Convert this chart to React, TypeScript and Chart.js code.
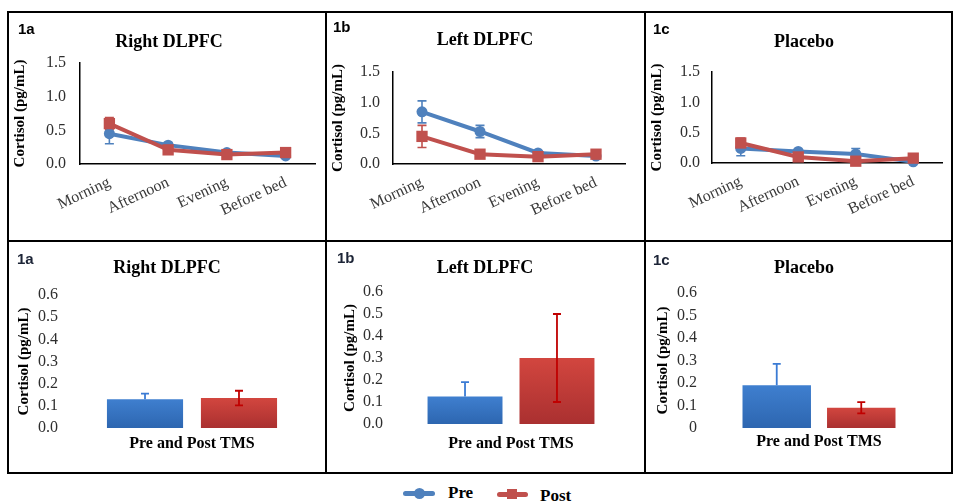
import React, { useEffect, useRef } from 'react';
import { Chart, registerables } from 'chart.js';

Chart.register(...registerables);

// ---------- data ----------
const timeLabels = ['Morning', 'Afternoon', 'Evening', 'Before bed'];
const lineYTicks = [0, 0.5, 1.0, 1.5];
const barYTicks = [0, 0.1, 0.2, 0.3, 0.4, 0.5, 0.6];
const barGroup = ['Pre and Post TMS'];
const seriesNames = ['Pre', 'Post'];
const yAxisTitle = 'Cortisol (pg/mL)';
const panelTitles = ['Right DLPFC', 'Left DLPFC', 'Placebo'];
const panelTags = ['1a', '1b', '1c'];

const rightPre = [0.45, 0.28, 0.17, 0.12];
const rightPreErr = [0.15, 0.04, 0.03, 0.02];
const rightPost = [0.6, 0.21, 0.14, 0.17];
const rightPostErr = [0.09, 0.04, 0.03, 0.03];

const leftPre = [0.85, 0.53, 0.18, 0.13];
const leftPreErr = [0.18, 0.1, 0.03, 0.02];
const leftPost = [0.45, 0.16, 0.12, 0.16];
const leftPostErr = [0.18, 0.04, 0.03, 0.03];

const placeboPre = [0.24, 0.19, 0.15, 0.02];
const placeboPreErr = [0.12, 0.03, 0.09, 0.02];
const placeboPost = [0.33, 0.1, 0.03, 0.08];
const placeboPostErr = [0.08, 0.03, 0.02, 0.03];

const barRightPre = [0.13];
const barRightPreErr = [0.025];
const barRightPost = [0.135];
const barRightPostErr = [0.033];

const barLeftPre = [0.125];
const barLeftPreErr = [0.065];
const barLeftPost = [0.3];
const barLeftPostErr = [0.2];

const barPlaceboPre = [0.19];
const barPlaceboPreErr = [0.095];
const barPlaceboPost = [0.09];
const barPlaceboPostErr = [0.025];

// ---------- styles ----------
const SERIF = "'Liberation Serif', 'Times New Roman', serif";
const SANS = "'Liberation Sans', Arial, sans-serif";
const BLUE = '#4f81bd';
const RED = '#c0504d';
const TICK = '#2e2e2e';

// ---------- error bar plugin ----------
function drawErrors(chart: any, opts: any) {
  const ctx = chart.ctx;
  const y = chart.scales.y;
  chart.data.datasets.forEach((ds: any, di: number) => {
    const errs = ds.errors;
    if (!errs) return;
    const meta = chart.getDatasetMeta(di);
    ctx.save();
    ctx.strokeStyle = ds.errorColor;
    ctx.lineWidth = opts.width;
    meta.data.forEach((el: any, i: number) => {
      const v = ds.data[i];
      const e = errs[i];
      if (v == null || e == null) return;
      const x = el.x;
      const yt = y.getPixelForValue(v + e);
      const yb = ds.errorPlusOnly ? y.getPixelForValue(v) : y.getPixelForValue(v - e);
      const c = opts.cap;
      ctx.beginPath();
      ctx.moveTo(x, yt);
      ctx.lineTo(x, yb);
      ctx.moveTo(x - c, yt);
      ctx.lineTo(x + c, yt);
      if (!ds.errorPlusOnly) {
        ctx.moveTo(x - c, yb);
        ctx.lineTo(x + c, yb);
      }
      ctx.stroke();
    });
    ctx.restore();
  });
}

const errorBarPlugin = {
  id: 'errorBars',
  beforeDatasetsDraw(chart: any, _args: any, opts: any) {
    if (opts.phase === 'before') drawErrors(chart, opts);
  },
  afterDatasetsDraw(chart: any, _args: any, opts: any) {
    if (opts.phase === 'after') drawErrors(chart, opts);
  },
};

type Geo = {
  pl: number; pr: number; tpt: number; tpb: number;
  yw: number; ytp: number; xh: number; ytickPad: number;
  xtpb?: number; cp?: number; bp?: number;
};

function lineConfig(g: Geo, title: string, pre: number[], preErr: number[], post: number[], postErr: number[]): any {
  return {
    type: 'line',
    data: {
      labels: timeLabels,
      datasets: [
        {
          label: seriesNames[0], data: pre, errors: preErr, errorColor: BLUE,
          borderColor: BLUE, backgroundColor: BLUE, pointBackgroundColor: BLUE, pointBorderColor: BLUE,
          borderWidth: 4, pointStyle: 'circle', pointRadius: 5.5, pointBorderWidth: 0,
          tension: 0, order: 1, clip: false,
        },
        {
          label: seriesNames[1], data: post, errors: postErr, errorColor: RED,
          borderColor: RED, backgroundColor: RED, pointBackgroundColor: RED, pointBorderColor: RED,
          borderWidth: 4, pointStyle: 'rect', pointRadius: 8, pointBorderWidth: 0,
          tension: 0, order: 0, clip: false,
        },
      ],
    },
    options: {
      responsive: false,
      animation: false,
      events: [],
      layout: { padding: { left: g.pl, right: g.pr, top: 0, bottom: 0 } },
      plugins: {
        legend: { display: false },
        tooltip: { enabled: false },
        title: {
          display: true, text: title, color: '#000',
          font: { family: SERIF, size: 18, weight: 'bold', lineHeight: 1.2 },
          padding: { top: g.tpt, bottom: g.tpb },
        },
        errorBars: { phase: 'before', width: 1.6, cap: 4.5 },
      },
      scales: {
        x: {
          type: 'category', offset: true,
          grid: { display: false, drawTicks: false },
          border: { display: true, color: '#000', width: 1.5 },
          ticks: {
            color: '#3a3a3a', font: { family: SERIF, size: 16 },
            minRotation: 25, maxRotation: 25, padding: 9, autoSkip: false,
          },
          afterFit: (s: any) => { s.height = g.xh; },
        },
        y: {
          min: 0, max: 1.5,
          grid: { display: false, drawTicks: false },
          border: { display: true, color: '#000', width: 1.5 },
          ticks: {
            color: TICK, font: { family: SERIF, size: 16 }, padding: g.ytickPad, autoSkip: false,
            callback: (v: any) => Number(v).toFixed(1),
          },
          afterBuildTicks: (s: any) => { s.ticks = lineYTicks.map((value) => ({ value })); },
          title: {
            display: true, text: yAxisTitle, color: '#000',
            font: { family: SERIF, size: 15, weight: 'bold', lineHeight: 1.2 },
            padding: { top: g.ytp, bottom: 0 },
          },
          afterFit: (s: any) => { s.width = g.yw; },
        },
      },
    },
    plugins: [errorBarPlugin],
  };
}

function barFill(top: string, bottom: string) {
  return (c: any) => {
    const chart = c.chart;
    const ys = chart.scales && chart.scales.y;
    if (!chart.chartArea || !ys || c.raw == null) return top;
    const y0 = ys.getPixelForValue(c.raw);
    const y1 = ys.getPixelForValue(0);
    if (!isFinite(y0) || !isFinite(y1) || y0 === y1) return top;
    const gr = chart.ctx.createLinearGradient(0, y0, 0, y1);
    gr.addColorStop(0, top);
    gr.addColorStop(1, bottom);
    return gr;
  };
}

function barConfig(g: Geo, title: string, pre: number[], preErr: number[], post: number[], postErr: number[], zeroLabel: string): any {
  return {
    type: 'bar',
    data: {
      labels: barGroup,
      datasets: [
        {
          label: seriesNames[0], data: pre, errors: preErr, errorColor: '#3b7bd4', errorPlusOnly: true,
          backgroundColor: barFill('#3f7fcf', '#2d66b0'), borderWidth: 0,
          categoryPercentage: g.cp, barPercentage: g.bp,
        },
        {
          label: seriesNames[1], data: post, errors: postErr, errorColor: '#c00000',
          backgroundColor: barFill('#d2463f', '#aa3030'), borderWidth: 0,
          categoryPercentage: g.cp, barPercentage: g.bp,
        },
      ],
    },
    options: {
      responsive: false,
      animation: false,
      events: [],
      layout: { padding: { left: g.pl, right: g.pr, top: 0, bottom: 0 } },
      plugins: {
        legend: { display: false },
        tooltip: { enabled: false },
        title: {
          display: true, text: title, color: '#000',
          font: { family: SERIF, size: 18, weight: 'bold', lineHeight: 1.2 },
          padding: { top: g.tpt, bottom: g.tpb },
        },
        errorBars: { phase: 'after', width: 1.8, cap: 4 },
      },
      scales: {
        x: {
          grid: { display: false, drawTicks: false },
          border: { display: false },
          ticks: { display: false },
          title: {
            display: true, text: barGroup[0], color: '#000',
            font: { family: SERIF, size: 16, weight: 'bold', lineHeight: 1.2 },
            padding: { top: 0, bottom: g.xtpb },
          },
          afterFit: (s: any) => { s.height = g.xh; },
        },
        y: {
          min: 0, max: 0.6,
          grid: { display: false, drawTicks: false },
          border: { display: false },
          ticks: {
            color: TICK, font: { family: SERIF, size: 16 }, padding: g.ytickPad, autoSkip: false,
            callback: (v: any) => (Number(v) === 0 ? zeroLabel : Number(v).toFixed(1)),
          },
          afterBuildTicks: (s: any) => { s.ticks = barYTicks.map((value) => ({ value })); },
          title: {
            display: true, text: yAxisTitle, color: '#000',
            font: { family: SERIF, size: 15, weight: 'bold', lineHeight: 1.2 },
            padding: { top: g.ytp, bottom: 0 },
          },
          afterFit: (s: any) => { s.width = g.yw; },
        },
      },
    },
    plugins: [errorBarPlugin],
  };
}

function ChartCanvas(props: { left: number; top: number; width: number; height: number; make: () => any }) {
  const ref = useRef<HTMLCanvasElement>(null);
  useEffect(() => {
    const chart = new Chart(ref.current as HTMLCanvasElement, props.make());
    return () => chart.destroy();
  }, []);
  return (
    <canvas
      ref={ref}
      width={props.width}
      height={props.height}
      style={{ position: 'absolute', left: props.left, top: props.top, width: props.width, height: props.height }}
    />
  );
}

const lineStyle = (l: number, t: number, w: number, h: number): React.CSSProperties => ({
  position: 'absolute', left: l, top: t, width: w, height: h, background: '#000', zIndex: 2,
});

const tagStyle = (l: number, cy: number, color: string): React.CSSProperties => ({
  position: 'absolute', left: l, top: cy - 9, height: 18, lineHeight: '18px',
  fontFamily: SANS, fontWeight: 'bold', fontSize: 15, color, whiteSpace: 'nowrap',
});

export default function App() {
  return (
    <div style={{ position: 'absolute', left: 0, top: 0, width: 954, height: 502, background: '#fff', overflow: 'hidden' }}>
      <ChartCanvas left={10} top={14} width={314} height={225}
        make={() => lineConfig({ pl: 13, pr: 9, tpt: 17.2, tpb: 10.2, yw: 57, ytp: -12, xh: 75, ytickPad: 14 },
          panelTitles[0], rightPre, rightPreErr, rightPost, rightPostErr)} />
      <ChartCanvas left={328} top={14} width={315} height={225}
        make={() => lineConfig({ pl: 17, pr: 18, tpt: 15.2, tpb: 21.2, yw: 48, ytp: -15.5, xh: 75, ytickPad: 13 },
          panelTitles[1], leftPre, leftPreErr, leftPost, leftPostErr)} />
      <ChartCanvas left={647} top={14} width={303} height={225}
        make={() => lineConfig({ pl: 13, pr: 2, tpt: 17.2, tpb: 19.2, yw: 52, ytp: -12, xh: 76, ytickPad: 12 },
          panelTitles[2], placeboPre, placeboPreErr, placeboPost, placeboPostErr)} />

      <ChartCanvas left={10} top={244} width={314} height={227}
        make={() => barConfig({ pl: 5, pr: 5, tpt: 13.2, tpb: 16.2, yw: 50, ytp: 0, xh: 43, ytickPad: 7, xtpb: 17.4, cp: 0.74, bp: 0.81 },
          panelTitles[0], barRightPre, barRightPreErr, barRightPost, barRightPostErr, '0.0')} />
      <ChartCanvas left={329} top={244} width={315} height={227}
        make={() => barConfig({ pl: 9, pr: 12, tpt: 13.2, tpb: 13.2, yw: 52, ytp: 3, xh: 47, ytickPad: 7, xtpb: 17.4, cp: 0.76, bp: 0.815 },
          panelTitles[1], barLeftPre, barLeftPreErr, barLeftPost, barLeftPostErr, '0.0')} />
      <ChartCanvas left={647} top={244} width={303} height={227}
        make={() => barConfig({ pl: 27, pr: 16, tpt: 13.2, tpb: 14.2, yw: 30, ytp: -20, xh: 43, ytickPad: 7, xtpb: 20, cp: 0.735, bp: 0.81 },
          panelTitles[2], barPlaceboPre, barPlaceboPreErr, barPlaceboPost, barPlaceboPostErr, '0')} />

      {/* panel borders */}
      <div style={lineStyle(7, 11, 946, 2)} />
      <div style={lineStyle(7, 240, 946, 2)} />
      <div style={lineStyle(7, 472, 946, 2)} />
      <div style={lineStyle(7, 11, 2, 463)} />
      <div style={lineStyle(951, 11, 2, 463)} />
      <div style={lineStyle(325, 11, 2, 463)} />
      <div style={lineStyle(644, 11, 2, 463)} />

      {/* panel tags */}
      <div style={tagStyle(18, 29, '#000')}>{panelTags[0]}</div>
      <div style={tagStyle(333, 27, '#000')}>{panelTags[1]}</div>
      <div style={tagStyle(653, 29, '#000')}>{panelTags[2]}</div>
      <div style={tagStyle(17, 259, '#1c2436')}>{panelTags[0]}</div>
      <div style={tagStyle(337, 258, '#1c2436')}>{panelTags[1]}</div>
      <div style={tagStyle(653, 260, '#1c2436')}>{panelTags[2]}</div>

      {/* legend */}
      <div style={{ position: 'absolute', left: 403, top: 491, width: 32, height: 5, borderRadius: 3, background: BLUE }} />
      <div style={{ position: 'absolute', left: 414, top: 488, width: 11, height: 11, borderRadius: '50%', background: BLUE }} />
      <div style={{ position: 'absolute', left: 448, top: 483, lineHeight: '20px', fontFamily: SERIF, fontWeight: 'bold', fontSize: 17, color: '#000' }}>{seriesNames[0]}</div>
      <div style={{ position: 'absolute', left: 497, top: 492, width: 31, height: 5, borderRadius: 3, background: RED }} />
      <div style={{ position: 'absolute', left: 507, top: 489, width: 10, height: 10, background: RED }} />
      <div style={{ position: 'absolute', left: 540, top: 486, lineHeight: '20px', fontFamily: SERIF, fontWeight: 'bold', fontSize: 17, color: '#000' }}>{seriesNames[1]}</div>
    </div>
  );
}
